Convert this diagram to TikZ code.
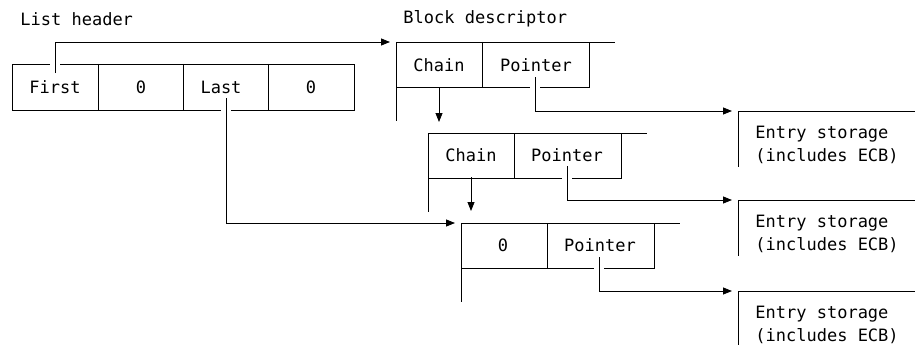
\documentclass[tikz,border=0pt]{standalone}
\usepackage{fontspec}
\setmonofont{DejaVu Sans Mono}
\usetikzlibrary{arrows.meta}
\begin{document}
\begin{tikzpicture}[x=1pt,y=-1pt,line width=0.8pt,
  lbl/.style={font=\ttfamily\fontsize{17}{23}\selectfont,inner sep=0pt},
  arr/.style={-{Triangle[length=9pt,width=7pt]}},
  halo/.style={preaction={draw=white,line width=10pt,-}},
  boxline/.style={line width=0.8pt}]
\useasboundingbox (0,0) rectangle (915,345);

% titles
\node[lbl,anchor=west] (lh) at (20,19) {List header};
\node[lbl,anchor=west] (bd) at (403,19) {Block descriptor};

% list header
\draw[boxline] (12,64) rectangle (354,110);
\foreach \x in {98,183,268} \draw[boxline] (\x,64) -- (\x,110);
\node[lbl] (first) at (55,87) {First};
\node[lbl] (z1) at (141,87) {0};
\node[lbl] (last) at (221,87) {Last};
\node[lbl] (z2) at (311,87) {0};

% block descriptors
\foreach \L/\T in {396/42,428/133,461/223}{
  \draw[boxline] (\L,\T) -- ({\L+219},\T);
  \draw[boxline] (\L,\T) -- (\L,{\T+79});
  \draw[boxline] (\L,{\T+45}) -- ({\L+193},{\T+45}) -- ({\L+193},\T);
  \draw[boxline] ({\L+86},\T) -- ({\L+86},{\T+45});
}
\node[lbl] (ch1) at (439,65) {Chain};
\node[lbl] (p1) at (536,65) {Pointer};
\node[lbl] (ch2) at (471,155) {Chain};
\node[lbl] (p2) at (567,155) {Pointer};
\node[lbl] (z3) at (503,245) {0};
\node[lbl] (p3) at (600,245) {Pointer};

% entry storage
\foreach \T/\n in {111/e1,200/e2,291/e3}{
  \draw[boxline] (915,\T) -- (738,\T) -- (738,{\T+56});
  \node[lbl,anchor=west,align=left] (\n) at (755,{\T+34}) {Entry storage\\(includes ECB)};
}

% anchor coordinates for connectors
\coordinate (b1in) at (390,42);
\coordinate (b2top) at (471,133);
\coordinate (b1chain) at (439,87);
\coordinate (b2chain) at (471,177);
\coordinate (b3in) at (455,223);
\coordinate (e1in) at (732,111);
\coordinate (e2in) at (732,200);
\coordinate (e3in) at (732,291);

% connectors
\draw[arr,halo] ([yshift=7pt]first.north -| 55,0) -- (55,42) -- (b1in);
\draw[arr,halo] (226,98) -- (226,223) -- (b3in);
\draw[arr] (b1chain) -- (439,122);
\draw[arr] (b2chain) -- (471,211);
\draw[arr,halo] (535,77) |- (e1in);
\draw[arr,halo] (567,166) |- (e2in);
\draw[arr,halo] (599,257) |- (e3in);
\end{tikzpicture}
\end{document}
